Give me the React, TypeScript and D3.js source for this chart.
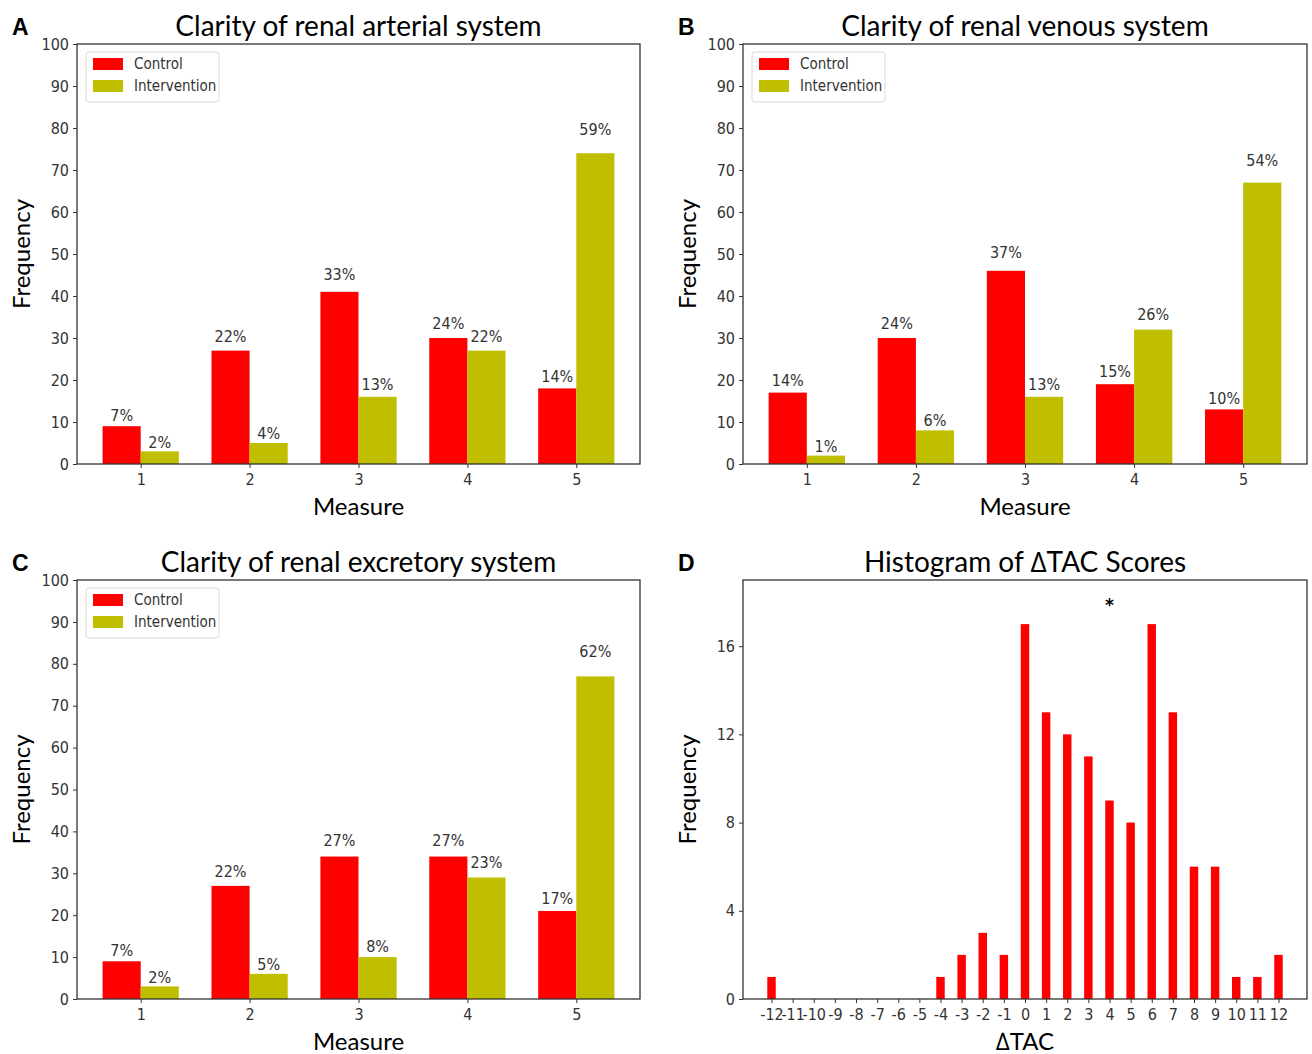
import React, { useEffect, useRef } from 'react';
import * as d3 from 'd3';

// measure categories shared by panels A-C
const MEASURES = [1, 2, 3, 4, 5];
const SERIES = ['Control', 'Intervention'];
const COLORS = ['#ff0000', '#bfbf00'];
const Y_TICKS_BAR = [0, 10, 20, 30, 40, 50, 60, 70, 80, 90, 100];

// A: arterial
const ART_CONTROL = [9, 27, 41, 30, 18];
const ART_INTERV = [3, 5, 16, 27, 74];
const ART_CONTROL_PCT = ['7%', '22%', '33%', '24%', '14%'];
const ART_INTERV_PCT = ['2%', '4%', '13%', '22%', '59%'];

// B: venous
const VEN_CONTROL = [17, 30, 46, 19, 13];
const VEN_INTERV = [2, 8, 16, 32, 67];
const VEN_CONTROL_PCT = ['14%', '24%', '37%', '15%', '10%'];
const VEN_INTERV_PCT = ['1%', '6%', '13%', '26%', '54%'];

// C: excretory
const EXC_CONTROL = [9, 27, 34, 34, 21];
const EXC_INTERV = [3, 6, 10, 29, 77];
const EXC_CONTROL_PCT = ['7%', '22%', '27%', '27%', '17%'];
const EXC_INTERV_PCT = ['2%', '5%', '8%', '23%', '62%'];

// D: histogram of delta TAC
const DTAC = [-12, -11, -10, -9, -8, -7, -6, -5, -4, -3, -2, -1, 0, 1, 2, 3, 4, 5, 6, 7, 8, 9, 10, 11, 12];
const DTAC_FREQ = [1, 0, 0, 0, 0, 0, 0, 0, 1, 2, 3, 2, 17, 13, 12, 11, 9, 8, 17, 13, 6, 6, 1, 1, 2];
const DTAC_Y_TICKS = [0, 4, 8, 12, 16];
const STAR_AT = 4;
const STAR_Y = 18;

const TICK_FONT = "'Liberation Sans Narrow', 'DejaVu Sans Condensed', sans-serif";
const TITLE_FONT = "Lato, 'Open Sans', sans-serif";

const W = 1312;
const H = 1054;

function styleAxis(g: any) {
  g.select('.domain').remove();
  g.selectAll('.tick line').attr('stroke', '#333').attr('stroke-width', 1);
  g.selectAll('.tick text')
    .attr('fill', '#333')
    .style('font-family', TICK_FONT)
    .style('font-size', '16px');
}

function frame(svg: any, x0: number, x1: number, y0: number, y1: number) {
  svg.append('rect')
    .attr('x', x0).attr('y', y0)
    .attr('width', x1 - x0).attr('height', y1 - y0)
    .attr('fill', 'none').attr('stroke', '#333').attr('stroke-width', 1.3);
}

function labels(svg: any, letter: string, title: string, xlab: string, x0: number, x1: number, y0: number, y1: number) {
  const cx = (x0 + x1) / 2;
  svg.append('text')
    .attr('x', x0 - 65).attr('y', y0 - 9)
    .attr('font-family', 'Liberation Sans, Arial, sans-serif')
    .attr('font-weight', 'bold').attr('font-size', 23)
    .text(letter);
  svg.append('text')
    .attr('x', cx).attr('y', y0 - 8)
    .attr('text-anchor', 'middle')
    .attr('font-family', TITLE_FONT).attr('font-size', 28)
    .text(title);
  svg.append('text')
    .attr('x', cx).attr('y', y1 + 51)
    .attr('text-anchor', 'middle')
    .attr('font-family', TITLE_FONT).attr('font-size', 24)
    .text(xlab);
  svg.append('text')
    .attr('transform', `translate(${x0 - 47},${(y0 + y1) / 2}) rotate(-90)`)
    .attr('text-anchor', 'middle')
    .attr('font-family', TITLE_FONT).attr('font-size', 24)
    .text('Frequency');
}

function barPanel(svg: any, opts: any) {
  const { letter, title, x0, x1, y0, y1, control, interv, controlPct, intervPct } = opts;
  const bw = 0.35;
  const x = d3.scaleLinear().domain([0.415, 5.585]).range([x0, x1]);
  const y = d3.scaleLinear().domain([0, 100]).range([y1, y0]);
  const g = svg.append('g');

  const series = [control, interv];
  const pcts = [controlPct, intervPct];
  series.forEach((vals: number[], si: number) => {
    g.selectAll(null)
      .data(vals)
      .join('rect')
      .attr('x', (_: any, i: number) => x(MEASURES[i] - bw + si * bw))
      .attr('y', (d: number) => y(d))
      .attr('width', x(bw) - x(0))
      .attr('height', (d: number) => y(0) - y(d))
      .attr('fill', COLORS[si]);
    g.selectAll(null)
      .data(vals)
      .join('text')
      .attr('x', (_: any, i: number) => x(MEASURES[i] - bw / 2 + si * bw))
      .attr('y', (d: number) => y(d * 1.05) - 3)
      .attr('text-anchor', 'middle')
      .attr('fill', '#333')
      .style('font-family', TICK_FONT)
      .style('font-size', '16px')
      .text((_: any, i: number) => pcts[si][i]);
  });

  g.append('g')
    .attr('transform', `translate(${x0},0)`)
    .call(d3.axisLeft(y).tickValues(Y_TICKS_BAR).tickSize(4).tickPadding(4))
    .call(styleAxis);
  g.append('g')
    .attr('transform', `translate(0,${y1})`)
    .call(d3.axisBottom(x).tickValues(MEASURES).tickFormat(d3.format('d')).tickSize(4).tickPadding(6))
    .call(styleAxis);
  frame(g, x0, x1, y0, y1);

  // legend
  const lg = g.append('g').attr('transform', `translate(${x0 + 9},${y0 + 8})`);
  lg.append('rect')
    .attr('width', 133).attr('height', 50).attr('rx', 3)
    .attr('fill', 'white').attr('fill-opacity', 0.8)
    .attr('stroke', '#d8d8d8');
  SERIES.forEach((s, i) => {
    lg.append('rect')
      .attr('x', 7).attr('y', 6 + i * 22)
      .attr('width', 30).attr('height', 12)
      .attr('fill', COLORS[i]);
    lg.append('text')
      .attr('x', 48).attr('y', 17 + i * 22)
      .attr('fill', '#333')
      .style('font-family', TICK_FONT)
      .style('font-size', '15px')
      .text(s);
  });

  labels(svg, letter, title, 'Measure', x0, x1, y0, y1);
}

function histPanel(svg: any, x0: number, x1: number, y0: number, y1: number) {
  const x = d3.scaleLinear().domain([-13.35, 13.35]).range([x0, x1]);
  const y = d3.scaleLinear().domain([0, 19]).range([y1, y0]);
  const bw = 0.4;
  const g = svg.append('g');
  g.selectAll(null)
    .data(DTAC_FREQ)
    .join('rect')
    .attr('x', (_: any, i: number) => x(DTAC[i] - bw / 2))
    .attr('y', (d: number) => y(d))
    .attr('width', x(bw) - x(0))
    .attr('height', (d: number) => y(0) - y(d))
    .attr('fill', '#ff0000');

  g.append('text')
    .attr('x', x(STAR_AT)).attr('y', y(STAR_Y) + 9)
    .attr('text-anchor', 'middle')
    .attr('font-family', 'DejaVu Sans, sans-serif')
    .attr('font-size', 17).attr('font-weight', 'bold')
    .text('*');

  g.append('g')
    .attr('transform', `translate(${x0},0)`)
    .call(d3.axisLeft(y).tickValues(DTAC_Y_TICKS).tickSize(4).tickPadding(4))
    .call(styleAxis);
  g.append('g')
    .attr('transform', `translate(0,${y1})`)
    .call(d3.axisBottom(x).tickValues(DTAC).tickFormat(d3.format('d')).tickSize(4).tickPadding(6))
    .call(styleAxis);
  g.selectAll('.tick text').text(function (this: any) { return this.textContent.replace('\u2212', '-'); });
  frame(g, x0, x1, y0, y1);

  labels(svg, 'D', 'Histogram of \u2206TAC Scores', '\u2206TAC', x0, x1, y0, y1);
}

export default function App() {
  const ref = useRef<SVGSVGElement>(null);

  useEffect(() => {
    const svg = d3.select(ref.current);
    svg.selectAll('*').remove();
    svg.append('rect').attr('width', W).attr('height', H).attr('fill', 'white');

    barPanel(svg, {
      letter: 'A', title: 'Clarity of renal arterial system',
      x0: 77, x1: 640, y0: 44, y1: 464,
      control: ART_CONTROL, interv: ART_INTERV, controlPct: ART_CONTROL_PCT, intervPct: ART_INTERV_PCT,
    });
    barPanel(svg, {
      letter: 'B', title: 'Clarity of renal venous system',
      x0: 743, x1: 1307, y0: 44, y1: 464,
      control: VEN_CONTROL, interv: VEN_INTERV, controlPct: VEN_CONTROL_PCT, intervPct: VEN_INTERV_PCT,
    });
    barPanel(svg, {
      letter: 'C', title: 'Clarity of renal excretory system',
      x0: 77, x1: 640, y0: 580, y1: 999,
      control: EXC_CONTROL, interv: EXC_INTERV, controlPct: EXC_CONTROL_PCT, intervPct: EXC_INTERV_PCT,
    });
    histPanel(svg, 743, 1307, 580, 999);
  }, []);

  return (
    <svg ref={ref} width={W} height={H}
      style={{ position: 'absolute', left: 0, top: 0, display: 'block' }} />
  );
}
